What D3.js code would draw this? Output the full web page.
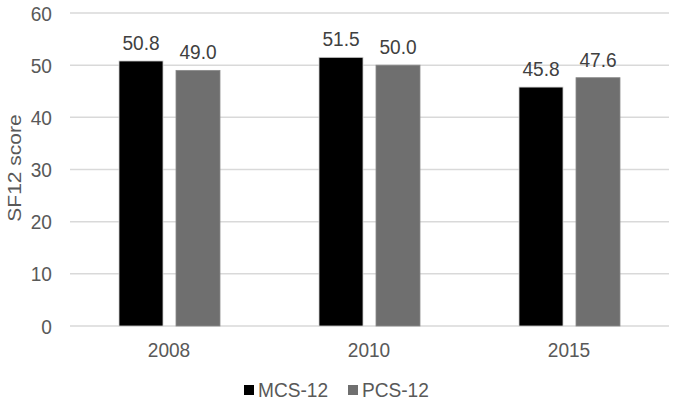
<!DOCTYPE html>
<html>
<head>
<meta charset="utf-8">
<script src="https://cdn.jsdelivr.net/npm/d3@7"></script>
<style>
  body { margin: 0; background: #fff; }
  text { font-family: "Liberation Sans", Arial, sans-serif; font-size: 21px; }
</style>
</head>
<body>
<div id="chart"></div>
<script>
const WIDTH = 675;
const HEIGHT = 402;
const SX = 0.91; // texto un poco angosto como en la imagen

const years = ["2008", "2010", "2015"];
const series = ["MCS-12", "PCS-12"];
const mcsValues = [50.8, 51.5, 45.8];
const pcsValues = [49.0, 50.0, 47.6];
const yTicks = [0, 10, 20, 30, 40, 50, 60];

const colors = { "MCS-12": "#000000", "PCS-12": "#6f6f6f" };

const data = years.map((y, i) => ({
    year: y,
    values: [
        { key: "MCS-12", value: mcsValues[i] },
        { key: "PCS-12", value: pcsValues[i] }
    ]
}));

const svg = d3.select("#chart").append("svg")
    .attr("width", WIDTH)
    .attr("height", HEIGHT);

const x0 = d3.scaleBand().domain(years).range([69, 669]);
const x1 = d3.scaleBand().domain(series).range([50, 151]).paddingInner(0.228);
const y = d3.scaleLinear().domain([0, 60]).range([326, 13]);

const place = (px, py) => `translate(${px},${py}) scale(${SX},1)`;

// gridlines
svg.append("g")
    .selectAll("line")
    .data(yTicks)
    .join("line")
    .attr("x1", 70)
    .attr("x2", 669)
    .attr("y1", d => y(d))
    .attr("y2", d => y(d))
    .attr("stroke", "#d9d9d9")
    .attr("stroke-width", 1.5);

// y tick labels
svg.append("g")
    .selectAll("text")
    .data(yTicks)
    .join("text")
    .attr("transform", d => place(52, y(d)))
    .attr("dy", "0.36em")
    .attr("text-anchor", "end")
    .attr("fill", "#595959")
    .text(d => d);

// y axis title
svg.append("text")
    .attr("transform", `translate(21, ${(118 + 218) / 2}) rotate(-90) scale(1,${SX})`)
    .attr("text-anchor", "middle")
    .attr("fill", "#595959")
    .text("SF12 score");

// bars
const groups = svg.append("g")
    .selectAll("g")
    .data(data)
    .join("g")
    .attr("transform", d => `translate(${x0(d.year)},0)`);

groups.selectAll("rect")
    .data(d => d.values)
    .join("rect")
    .attr("x", d => x1(d.key))
    .attr("y", d => y(d.value))
    .attr("width", x1.bandwidth())
    .attr("height", d => y(0) - y(d.value))
    .attr("fill", d => colors[d.key])
    .attr("stroke", d => d.key === "MCS-12" ? "#cfcfcf" : "#8a8a8a")
    .attr("stroke-width", 0.8);

groups.selectAll("text")
    .data(d => d.values)
    .join("text")
    .attr("transform", d => place(x1(d.key) + x1.bandwidth() / 2, y(d.value) - 11))
    .attr("text-anchor", "middle")
    .attr("fill", "#404040")
    .text(d => d.value.toFixed(1));

// x labels
svg.append("g")
    .selectAll("text")
    .data(years)
    .join("text")
    .attr("transform", d => place(x0(d) + x0.bandwidth() / 2, 357))
    .attr("text-anchor", "middle")
    .attr("fill", "#595959")
    .text(d => d);

// legend
const legendX = [244, 348];
const legend = svg.append("g")
    .selectAll("g")
    .data(series)
    .join("g")
    .attr("transform", (d, i) => `translate(${legendX[i]}, 0)`);

legend.append("rect")
    .attr("x", 0)
    .attr("y", 385)
    .attr("width", 10)
    .attr("height", 10)
    .attr("fill", d => colors[d]);

legend.append("text")
    .attr("transform", place(14, 397))
    .attr("fill", "#595959")
    .text(d => d);
</script>
</body>
</html>
